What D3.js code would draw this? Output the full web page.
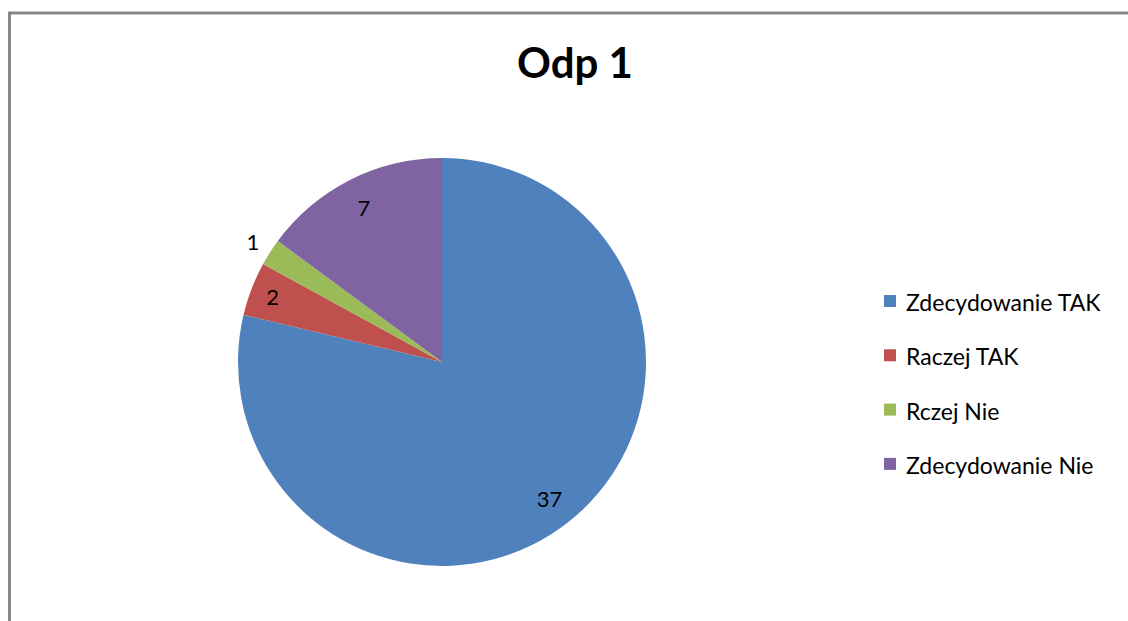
<!DOCTYPE html>
<html><head><meta charset="utf-8">
<script src="https://cdn.jsdelivr.net/npm/d3@7"></script>
<style>
html,body{margin:0;padding:0;background:#fff;}
svg{display:block;}
text{font-family:Lato,"Open Sans",sans-serif;}
</style></head>
<body>
<svg id="chart" width="1128" height="621"></svg>
<script>
const categories = ["Zdecydowanie TAK", "Raczej TAK", "Rczej Nie", "Zdecydowanie Nie"];
const values = [37, 2, 1, 7];
const colors = ["#4F81BD", "#C0504D", "#9BBB59", "#8064A2"];
const title = "Odp 1";

const svg = d3.select("#chart");
const W = 1128, H = 621;

svg.append("rect").attr("x", 9.5).attr("y", 13).attr("width", W + 20).attr("height", H + 20)
  .attr("fill", "#fff").attr("stroke", "#878787").attr("stroke-width", 3);

svg.append("text").attr("x", 575).attr("y", 78).attr("text-anchor", "middle")
  .attr("font-size", 42).attr("font-weight", "bold").attr("fill", "#000").text(title);

const cx = 442, cy = 362, r = 204;
const total = d3.sum(values);
const pie = d3.pie().sort(null).value(d => d)(values);
const arc = d3.arc().innerRadius(0).outerRadius(r);
const g = svg.append("g").attr("transform", `translate(${cx},${cy})`);
g.selectAll("path").data(pie).join("path")
  .attr("d", arc).attr("fill", (d, i) => colors[i]);

g.selectAll("text.lbl").data(pie).join("text").attr("class", "lbl")
  .attr("transform", d => {
    const f = d.value / total < 0.03 ? 1.1 : (d.value / total < 0.1 ? 0.89 : 0.85);
    const a = d3.arc().innerRadius(r * f).outerRadius(r * f);
    const [x, y] = a.centroid(d);
    return `translate(${x},${y})`;
  })
  .attr("text-anchor", "middle").attr("dominant-baseline", "central")
  .attr("font-size", 22).attr("fill", "#000").text(d => d.value);

const lg = svg.append("g").attr("transform", "translate(884,0)");
const rows = lg.selectAll("g").data(categories).join("g")
  .attr("transform", (d, i) => `translate(0,${301 + i * 54.3})`);
rows.append("rect").attr("x", 0).attr("y", -6).attr("width", 12).attr("height", 12)
  .attr("fill", (d, i) => colors[i]);
rows.append("text").attr("x", 22).attr("y", 1).attr("dominant-baseline", "central")
  .attr("font-size", 23).attr("fill", "#000").text(d => d);
</script>
</body></html>
